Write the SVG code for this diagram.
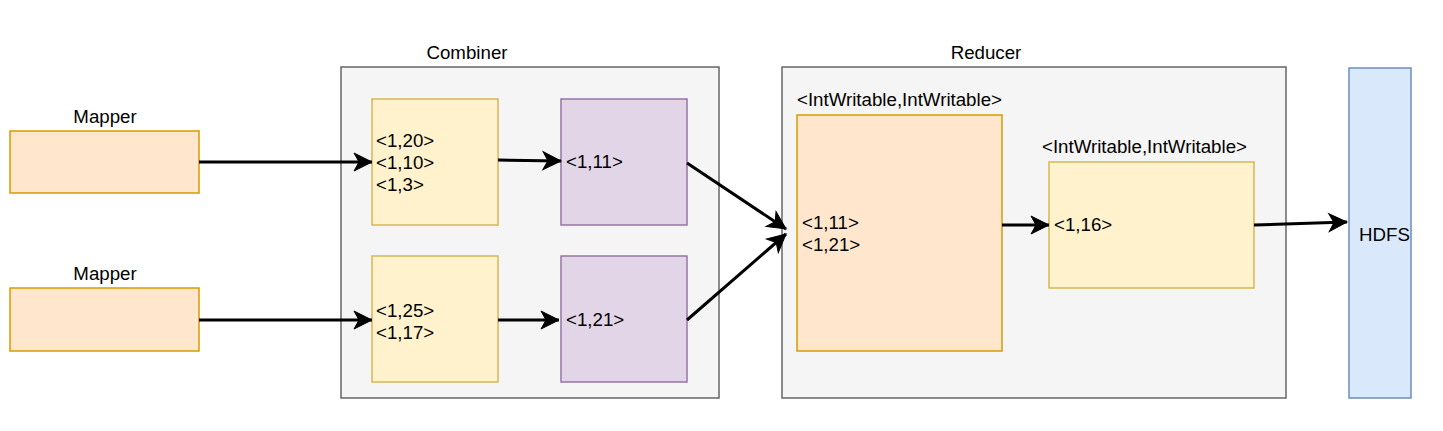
<svg xmlns="http://www.w3.org/2000/svg" width="1443" height="431" viewBox="0 0 1443 431">
<defs>
<marker id="ah" markerUnits="userSpaceOnUse" markerWidth="20" markerHeight="20" refX="18" refY="10" orient="auto" overflow="visible">
<path d="M0,1 L18,10 L0,19 L5,10 Z" fill="#000" stroke="#000" stroke-width="1"/>
</marker>
<style>
text{font-family:"Liberation Sans",Arial,sans-serif;font-size:18.7px;fill:#000}
.gray{fill:#f5f5f5;stroke:#666666;stroke-width:1.5}
.orange{fill:#ffe6cc;stroke:#d79b00;stroke-width:1.5}
.yellow{fill:#fff2cc;stroke:#d6b656;stroke-width:1.5}
.purple{fill:#e1d5e7;stroke:#9673a6;stroke-width:1.5}
.blue{fill:#dae8fc;stroke:#6c8ebf;stroke-width:1.5}
.c{text-anchor:middle}
.e{fill:none;stroke:#000;stroke-width:3;marker-end:url(#ah)}
</style>
</defs>
<g id="combiner"><rect class="gray" x="341" y="67" width="378" height="331"/><text class="c" x="467" y="59">Combiner</text></g>
<g id="reducer"><rect class="gray" x="782" y="67" width="504" height="331"/><text class="c" x="986" y="59">Reducer</text></g>
<g id="mapper1"><rect class="orange" x="10" y="131" width="189" height="62"/><text class="c" x="105" y="123">Mapper</text></g>
<g id="mapper2"><rect class="orange" x="10" y="288" width="189" height="63"/><text class="c" x="105" y="280">Mapper</text></g>
<g id="y1"><rect class="yellow" x="372" y="99" width="126" height="126"/><text x="376" y="147">&lt;1,20&gt;</text><text x="376" y="169">&lt;1,10&gt;</text><text x="376" y="191">&lt;1,3&gt;</text></g>
<g id="p1"><rect class="purple" x="561" y="99" width="126" height="126"/><text x="566" y="168">&lt;1,11&gt;</text></g>
<g id="y2"><rect class="yellow" x="372" y="256" width="126" height="126"/><text x="376" y="317">&lt;1,25&gt;</text><text x="376" y="339">&lt;1,17&gt;</text></g>
<g id="p2"><rect class="purple" x="561" y="256" width="126" height="126"/><text x="566" y="326">&lt;1,21&gt;</text></g>
<g id="reduce"><rect class="orange" x="797" y="115" width="205" height="236"/><text x="797" y="106">&lt;IntWritable,IntWritable&gt;</text><text x="802" y="229">&lt;1,11&gt;</text><text x="802" y="251">&lt;1,21&gt;</text></g>
<g id="out"><rect class="yellow" x="1049" y="162" width="205" height="126"/><text x="1042" y="153">&lt;IntWritable,IntWritable&gt;</text><text x="1054" y="231">&lt;1,16&gt;</text></g>
<g id="hdfs"><rect class="blue" x="1349" y="68" width="62" height="330"/><text x="1359" y="241">HDFS</text></g>
<g id="connectors">
<path class="e" d="M199,162 L372,162"/>
<path class="e" d="M498,160 L561,161"/>
<path class="e" d="M199,320 L372,320"/>
<path class="e" d="M498,320 L559,320"/>
<path class="e" d="M687,163 L786,229"/>
<path class="e" d="M687,320 L786,234"/>
<path class="e" d="M1002,225 L1049,225"/>
<path class="e" d="M1254,225 L1347,222"/>
</g>
</svg>
